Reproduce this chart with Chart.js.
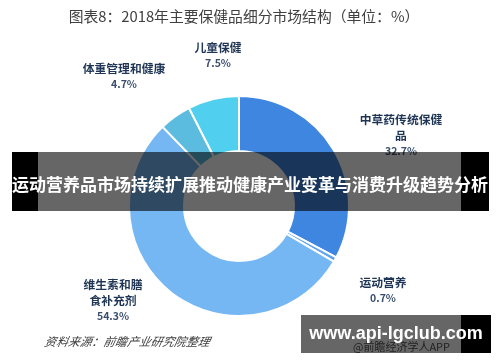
<!DOCTYPE html>
<html>
<head>
<meta charset="utf-8">
<script src="https://cdn.jsdelivr.net/npm/chart.js@4.4.0/dist/chart.umd.min.js"></script>
<style>
  html,body{margin:0;padding:0;background:#fff;}
  #wrap{position:relative;width:500px;height:362px;overflow:hidden;background:#fff;font-family:"Noto Sans CJK SC","Noto Sans",sans-serif;}
  canvas{position:absolute;left:0;top:0;}
  .t{position:absolute;white-space:nowrap;}
  .lbl{position:absolute;color:#1f3556;font-weight:bold;font-size:11.8px;line-height:16px;text-align:center;transform:translateX(-50%);white-space:nowrap;}
  .lbl .v{color:#3a4f6e;font-size:10.5px;}
  .ov{position:absolute;}
</style>
</head>
<body>
<div id="wrap">
  <canvas id="c" width="500" height="362"></canvas>
  <div class="t" id="title" style="left:0;width:488px;top:5px;text-align:center;font-size:14.8px;color:#404040;">图表8：2018年主要保健品细分市场结构（单位：%）</div>
  <div id="labels"></div>
  <div class="t" style="left:45px;top:332px;font-size:11.8px;color:#404040;font-style:italic;transform:skewX(-12deg);">资料来源：前瞻产业研究院整理</div>
  <div class="t" style="left:353px;top:338px;font-size:11px;color:#555;">@前瞻经济学人APP</div>

  <div class="ov" style="left:12px;top:152px;width:26px;height:59px;background:#000;"></div>
  <div class="ov" style="left:38px;top:152px;width:423px;height:59px;background:rgba(0,0,0,0.6);"></div>
  <div class="ov" style="left:461px;top:152px;width:28px;height:59px;background:#000;"></div>
  <div class="t" style="left:0;width:500px;top:172px;text-align:center;font-size:17px;line-height:24px;font-weight:bold;color:#fff;">运动营养品市场持续扩展推动健康产业变革与消费升级趋势分析</div>

  <div class="ov" style="left:301px;top:315px;width:160px;height:38px;background:rgba(0,0,0,0.6);"></div>
  <div class="ov" style="left:461px;top:315px;width:30px;height:38px;background:#000;"></div>
  <div class="t" style="left:301px;width:190px;top:321px;text-align:center;font-family:'Liberation Sans',Arial,sans-serif;font-size:18px;line-height:24px;font-weight:bold;color:#fff;">www.api-lgclub.com</div>
</div>
<script>
const categories = ["中草药传统保健品", "运动营养", "维生素和膳食补充剂", "体重管理和健康", "儿童保健"];
const shares = [32.7, 0.7, 54.3, 4.7, 7.5];
const sliceColors = ["#3f86e0", "#62a4ec", "#74b7f2", "#5bbce0", "#50d0ee"];
const labelLines = [["中草药传统保健", "品"], ["运动营养"], ["维生素和膳", "食补充剂"], ["体重管理和健康"], ["儿童保健"]];

new Chart(document.getElementById('c'), {
  type: 'doughnut',
  data: {
    labels: categories,
    datasets: [{
      data: shares,
      backgroundColor: sliceColors,
      borderColor: '#ffffff',
      borderWidth: 2
    }]
  },
  options: {
    responsive: false,
    animation: false,
    cutout: '50%',
    layout: { padding: { left: 128, right: 150, top: 95, bottom: 45 } },
    plugins: { legend: { display: false }, tooltip: { enabled: false } }
  }
});

const pos = [[401,111],[383,274],[113,276],[124,60],[218,39]];
const box = document.getElementById('labels');
categories.forEach((c, i) => {
  const d = document.createElement('div');
  d.className = 'lbl';
  d.style.left = pos[i][0] + 'px';
  d.style.top = pos[i][1] + 'px';
  d.innerHTML = labelLines[i].map(s => '<div>' + s + '</div>').join('') + '<div class="v">' + shares[i].toFixed(1) + '%</div>';
  box.appendChild(d);
});
</script>
</body>
</html>
